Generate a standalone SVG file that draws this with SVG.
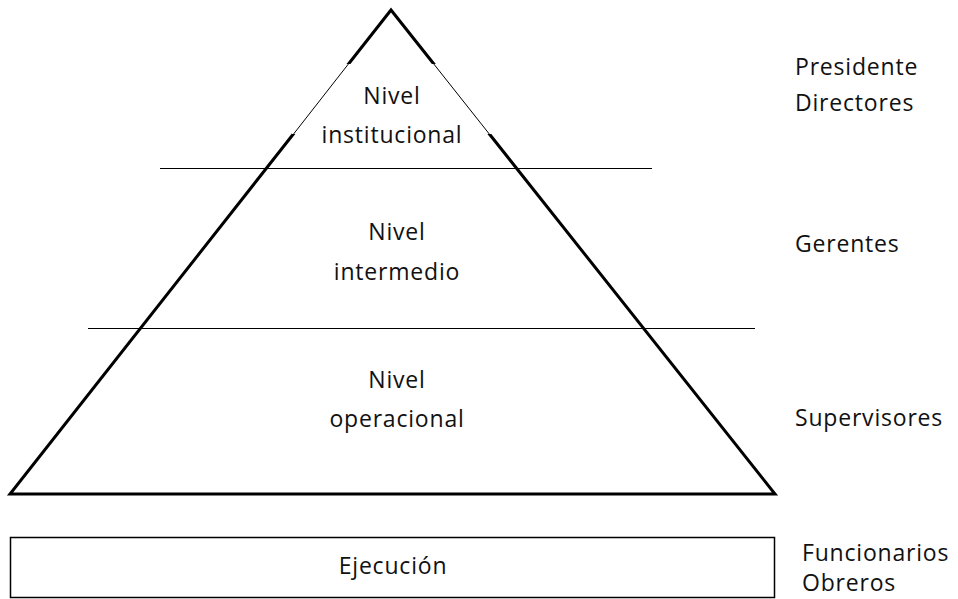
<svg xmlns="http://www.w3.org/2000/svg" width="958" height="599" viewBox="0 0 958 599">
<style>
text{font-family:"Open Sans","Liberation Sans",sans-serif;font-size:23px;letter-spacing:0.8px;fill:#111}
.c{text-anchor:middle}
.thin{stroke:#000;stroke-width:1;fill:none}
</style>
<rect width="958" height="599" fill="#fff"/>
<g id="pyramid">
<polygon points="391,10 10,494 775,494" fill="none" stroke="#000" stroke-width="3" stroke-linejoin="miter"/>
<rect x="292" y="64" width="200" height="70" fill="#fff"/>
<line class="thin" x1="348.4" y1="64" x2="293.6" y2="134"/>
<line class="thin" x1="433.8" y1="64" x2="489.3" y2="134"/>
</g>
<g id="dividers">
<line x1="160" y1="168.5" x2="652" y2="168.5" stroke="#000" stroke-width="1"/>
<line x1="88" y1="328.5" x2="755" y2="328.5" stroke="#000" stroke-width="1"/>
</g>
<g id="nivel-institucional">
<text class="c" x="392" y="104">Nivel</text>
<text class="c" x="392" y="143">institucional</text>
</g>
<g id="nivel-intermedio">
<text class="c" x="397" y="240">Nivel</text>
<text class="c" x="397" y="280">intermedio</text>
</g>
<g id="nivel-operacional">
<text class="c" x="397" y="388">Nivel</text>
<text class="c" x="397" y="427">operacional</text>
</g>
<g id="ejecucion">
<rect x="10.5" y="537.5" width="764" height="60" fill="#fff" stroke="#000" stroke-width="1.5"/>
<text class="c" x="393" y="574">Ejecución</text>
</g>
<g id="labels">
<text x="795" y="75">Presidente</text>
<text x="795" y="111">Directores</text>
<text x="795" y="252">Gerentes</text>
<text x="795" y="426">Supervisores</text>
<text x="802" y="561">Funcionarios</text>
<text x="802" y="591">Obreros</text>
</g>
</svg>
